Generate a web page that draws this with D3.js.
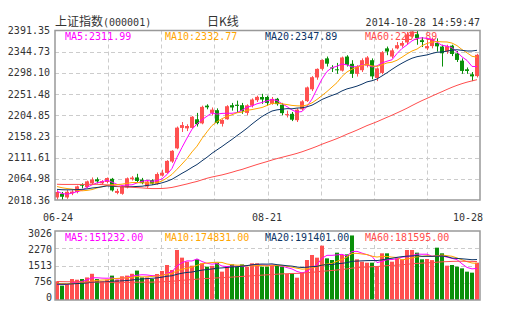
<!DOCTYPE html>
<html><head><meta charset="utf-8">
<script src="https://cdn.jsdelivr.net/npm/d3@7"></script>
<style>body{margin:0;background:#fff}svg{display:block}</style>
</head><body>
<svg id="c" width="505" height="330"></svg>
<script>
const dates=["06-24","06-25","06-26","06-27","06-30",
"07-01","07-02","07-03","07-04","07-07","07-08","07-09","07-10","07-11","07-14","07-15","07-16","07-17","07-18","07-21","07-22","07-23","07-24","07-25","07-28","07-29","07-30","07-31",
"08-01","08-04","08-05","08-06","08-07","08-08","08-11","08-12","08-13","08-14","08-15","08-18","08-19","08-20","08-21","08-22","08-25","08-26","08-27","08-28","08-29",
"09-01","09-02","09-03","09-04","09-05","09-09","09-10","09-11","09-12","09-15","09-16","09-17","09-18","09-19","09-22","09-23","09-24","09-25","09-26","09-29","09-30",
"10-08","10-09","10-10","10-13","10-14","10-15","10-16","10-17","10-20","10-21","10-22","10-23","10-24","10-27","10-28"];
const open=[2024,2032,2024,2033,2036,2052,2047,2055,2064,2055,2058,2065,2034,2032,2046,2064,2068,2063,2048,2062,2054,2072,2078,2103,2132,2177,2176,2177,2196,2187,2226,2210,2216,2186,2196,2227,2228,2227,2210,2226,2238,2245,2245,2230,2241,2228,2205,2208,2194,2218,2236,2262,2288,2307,2330,2310,2306,2303,2334,2318,2296,2304,2314,2326,2287,2298,2352,2334,2352,2358,2365,2378,2383,2370,2352,2357,2364,2356,2345,2358,2341,2325,2306,2295,2291];
const high=[2040,2036,2040,2040,2050,2055,2061,2068,2068,2062,2068,2067,2043,2049,2068,2071,2076,2067,2062,2064,2079,2085,2106,2128,2180,2190,2185,2203,2210,2226,2229,2222,2220,2196,2227,2232,2237,2232,2229,2242,2248,2252,2248,2245,2243,2232,2215,2212,2220,2238,2268,2291,2308,2328,2334,2315,2320,2334,2337,2326,2315,2330,2335,2330,2310,2346,2356,2352,2366,2368,2388,2391.35,2391,2377,2370,2376,2374,2360,2360,2360,2346,2330,2310,2300,2340];
const low=[2019,2018.4,2021,2029,2033,2044,2045,2052,2055,2052,2055,2037,2031,2030,2044,2061,2058,2053,2045,2052,2052,2070,2076,2100,2130,2168,2170,2175,2180,2185,2218,2205,2185,2180,2195,2215,2210,2208,2205,2222,2234,2230,2226,2228,2226,2205,2200,2192,2190,2215,2234,2258,2283,2303,2312,2300,2296,2301,2312,2287,2290,2300,2310,2284,2280,2295,2337,2330,2350,2354,2360,2375,2360,2355,2348,2352,2345,2312,2340,2335,2322,2296,2296,2280,2288];
const close=[2036,2025.5,2036.5,2036.9,2048.3,2050.4,2059.4,2063.2,2059.4,2059.9,2066.7,2039.5,2038.3,2047,2066.1,2067.7,2060.2,2055.6,2059.1,2054.5,2075.5,2078.4,2104.4,2126.6,2177.6,2183.2,2181.2,2201.6,2185.3,2223.3,2222.3,2217.2,2187.7,2194.4,2224.7,2222,2225.4,2213.6,2226.7,2239.5,2245.3,2239.5,2232,2240.8,2229.3,2209.5,2207.4,2195.1,2217.2,2235.5,2266.1,2288.6,2306.9,2326.4,2318.3,2307.9,2304.2,2332,2315.9,2296,2311,2326,2332,2290.4,2308,2343.6,2345.1,2347.7,2359,2363.9,2382.8,2389.4,2374.5,2366,2357,2373,2356.5,2341.2,2356.8,2339.7,2326.6,2302.4,2302.3,2290.4,2337.9];
const volume=[820,630,700,920,890,920,990,1150,920,820,890,1070,890,1040,1070,1150,1290,990,990,920,1140,1272,1535,1316,2193,1857,1681,1506,1784,1608,1462,1500,1637,1243,1491,1564,1462,1560,1450,1608,1608,1462,1462,1535,1506,1462,1140,1170,979,1199,1754,1974,1857,2383,1827,1754,2076,1974,2003,2830,1784,1681,1637,1637,1462,2047,2047,1681,1827,1784,2193,2193,2076,1784,1798,1750,2295,2047,1506,1535,1462,1389,1243,1199,1637];
// sessions before 06-24 (only feed the moving averages at the left edge)
const priorClose=[2046,2041,2033,2047,2059,2043,2058,2059,2098,2108,2105,2130,2131,2105,2105,2100,2098,2107,2091,2072,2070,2052,2037,2033,2027,
2026,2028,2027,2010,2015,2052,2050,2057,2053,2040,2026,2040,2008,2024,2034,2042,2041,2035,2040,2039,
2039,2025,2035,2030,2029,2052,2054,2050,2070,2066,2050,2045,2024,2033];
const priorVolume=[1000,950,900,1100,1200,1000,1050,1100,1300,1250,1150,1200,1100,950,900,950,1000,900,850,800,820,780,760,700,690,
650,640,700,680,620,720,800,760,700,660,640,700,720,680,650,700,690,640,660,650,
660,640,700,680,650,720,760,800,780,740,700,680,620,640];
const priceTickLabels=["2018.36","2064.98","2111.61","2158.23","2204.85","2251.48","2298.10","2344.73","2391.35"];
const volTickLabels=["0","756","1513","2270","3026"];
const maPeriods=[5,10,20,60];
const maColors=["#ff00ff","#ffa500","#0b3466","#ff4d4d"];
const priceLegend=["MA5:2311.99","MA10:2332.77","MA20:2347.89","MA60:2283.89"];
const volLegend=["MA5:151232.00","MA10:174831.00","MA20:191401.00","MA60:181595.00"];
const dateTicks=["06-24","08-21","10-28"];
const title="上证指数", code="(000001)", kind="日K线", stamp="2014-10-28 14:59:47";

const RED="#ff5050", GREEN="#0a900a", GRID="#cccccc", BORDER="#999999", TXT="#333333";
const MONO="'DejaVu Sans Mono','Liberation Mono',monospace";
const CJK="'Noto Sans CJK SC','Noto Sans',sans-serif";
const L=55, R=480, PT=30.5, PB=200, VT=231, VB=300;

const svg=d3.select("#c");
const n=close.length, idx=d3.range(n);
const x=d3.scaleBand().domain(idx).range([L,R]).padding(0);
const bw=4;
const pmin=+priceTickLabels[0], pmax=+priceTickLabels[priceTickLabels.length-1];
const y=d3.scaleLinear().domain([pmin,pmax]).range([PB,PT]);
const vmax=+volTickLabels[volTickLabels.length-1];
const yv=d3.scaleLinear().domain([0,vmax]).range([VB,VT]);
const yvLab=d3.scaleLinear().domain([0,vmax]).range([VB-3,VT+2.5]);

function movingAvg(series,prior,p){
  const full=prior.concat(series), off=prior.length;
  return series.map((_,i)=>d3.mean(full.slice(off+i-p+1,off+i+1)));
}

svg.append("defs").call(d=>{
  d.append("clipPath").attr("id","cp").append("rect").attr("x",L).attr("y",PT-1).attr("width",R-L).attr("height",PB-PT+1);
  d.append("clipPath").attr("id","cv").append("rect").attr("x",L).attr("y",VT).attr("width",R-L).attr("height",VB-VT);
});

// header
const h=svg.append("text").attr("x",55).attr("y",25.5).attr("fill",TXT);
h.append("tspan").attr("font-family",CJK).attr("font-size",12).text(title);
h.append("tspan").attr("font-family",MONO).attr("font-size",10).text(code);
svg.append("text").attr("x",207).attr("y",25.5).attr("fill",TXT).attr("font-family",CJK).attr("font-size",12).text(kind);
svg.append("text").attr("x",480).attr("y",25.5).attr("text-anchor","end").attr("fill",TXT).attr("font-family",MONO).attr("font-size",10).text(stamp);

// grids
const gridX=d3.range(1,8).map(k=>L+(R-L)*k/8);
function grids(top,bottom,ys){
  const g=svg.append("g").attr("stroke",GRID).attr("stroke-dasharray","4,3").attr("stroke-width",1);
  gridX.forEach(gx=>g.append("line").attr("x1",Math.round(gx)+0.5).attr("x2",Math.round(gx)+0.5).attr("y1",top).attr("y2",bottom));
  ys.forEach(gy=>g.append("line").attr("x1",L).attr("x2",R).attr("y1",Math.round(gy)+0.5).attr("y2",Math.round(gy)+0.5));
}
grids(PT,PB,priceTickLabels.slice(1,-1).map(v=>y(+v)));
grids(VT,VB,volTickLabels.slice(1,-1).map(v=>yv(+v)));

// axis labels
const ax=svg.append("g").attr("font-family",MONO).attr("font-size",10).attr("fill",TXT).attr("text-anchor","end");
priceTickLabels.forEach(t=>ax.append("text").attr("x",50).attr("y",y(+t)).attr("dy","0.35em").text(t));
volTickLabels.forEach(t=>ax.append("text").attr("x",52).attr("y",yvLab(+t)).attr("dy","0.35em").text(t));
const dateIdx=dateTicks.map(d=>dates.indexOf(d));
dateIdx.forEach((i,k)=>{
  const cx=x(i)+bw/2, w=dateTicks[k].length*6.02;
  let left=Math.max(43,Math.min(483-w,cx-w/2));
  svg.append("text").attr("x",left).attr("y",221).attr("font-family",MONO).attr("font-size",10).attr("fill",TXT).text(dateTicks[k]);
});

// legends
const lg=[65,165,265,365];
priceLegend.forEach((t,k)=>svg.append("text").attr("x",lg[k]).attr("y",39.5).attr("font-family",MONO).attr("font-size",10).attr("fill",maColors[k]).text(t));

// candles
const cg=svg.append("g").attr("clip-path","url(#cp)");
idx.forEach(i=>{
  const up=close[i]>=open[i], col=up?RED:GREEN;
  const cx=x(i)+2.5;
  cg.append("line").attr("x1",cx).attr("x2",cx).attr("y1",y(high[i])).attr("y2",y(low[i])).attr("stroke",col).attr("stroke-width",1);
  const t=y(Math.max(open[i],close[i])), b=y(Math.min(open[i],close[i]));
  cg.append("rect").attr("x",x(i)).attr("y",t).attr("width",bw).attr("height",Math.max(1,b-t)).attr("fill",col);
});
const lineP=d3.line().x((d,i)=>x(i)+2).y(d=>y(d));
maPeriods.forEach((p,k)=>{
  cg.append("path").attr("d",lineP(movingAvg(close,priorClose,p))).attr("fill","none").attr("stroke",maColors[k]).attr("stroke-width",1);
});

// volume
const vg=svg.append("g").attr("clip-path","url(#cv)");
idx.forEach(i=>{
  const col=close[i]>=open[i]?RED:GREEN;
  vg.append("rect").attr("x",x(i)).attr("y",yv(volume[i])).attr("width",bw).attr("height",VB-yv(volume[i])).attr("fill",col);
});
const lineV=d3.line().x((d,i)=>x(i)+2).y(d=>yv(d));
maPeriods.forEach((p,k)=>{
  vg.append("path").attr("d",lineV(movingAvg(volume,priorVolume,p))).attr("fill","none").attr("stroke",maColors[k]).attr("stroke-width",1);
});
volLegend.forEach((t,k)=>svg.append("text").attr("x",lg[k]).attr("y",240.5).attr("font-family",MONO).attr("font-size",10).attr("fill",maColors[k]).text(t));

// frames
[[PT,PB],[VT,VB]].forEach(([t,b])=>{
  svg.append("rect").attr("x",L).attr("y",t).attr("width",R-L).attr("height",b-t).attr("fill","none").attr("stroke",BORDER).attr("stroke-width",1.5);
});
</script>
</body></html>
